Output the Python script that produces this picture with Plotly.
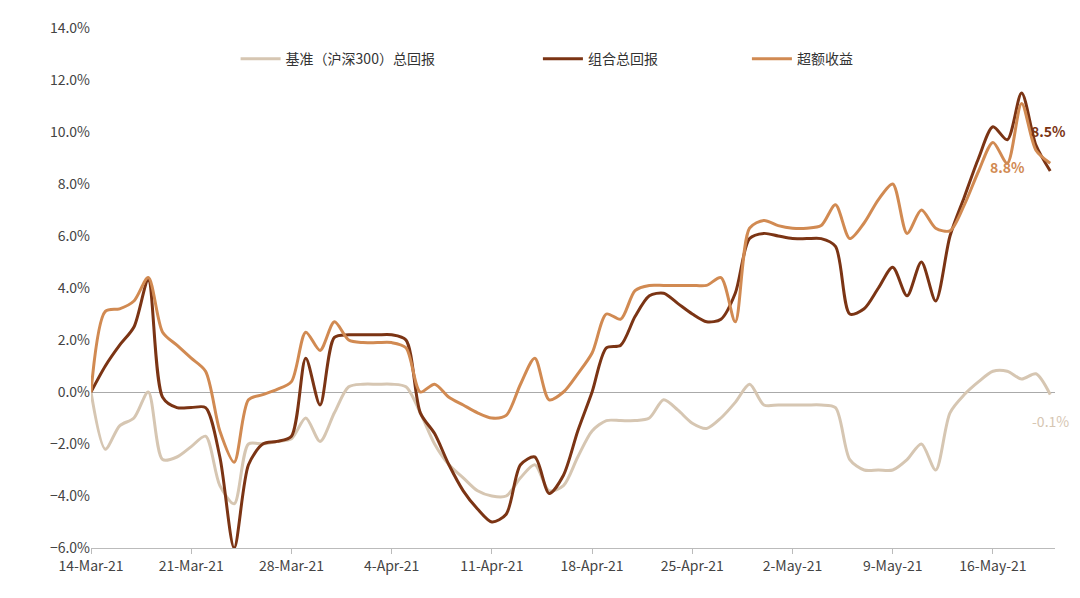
import plotly.graph_objects as go
import pandas as pd

dates = pd.date_range("2021-03-14", periods=68, freq="D")
bench = [0,-2.2,-1.3,-1.0,0,-2.6,-2.5,-2.1,-1.7,-3.6,-4.3,-2.0,-2.0,-1.9,-1.8,-1.0,-1.9,-0.8,0.2,0.3,
         0.3,0.3,0.2,-0.8,-2.0,-2.8,-3.3,-3.8,-4.0,-4.0,-3.3,-2.8,-3.8,-3.6,-2.5,-1.5,-1.1,-1.1,-1.1,-1.0,
         -0.3,-0.7,-1.2,-1.4,-1.0,-0.4,0.3,-0.5,-0.5,-0.5,-0.5,-0.5,-0.6,-2.6,-3.0,-3.0,-3.0,-2.6,-2.0,-3.0,
         -0.8,-0.1,0.4,0.8,0.8,0.5,0.7,-0.1]
port = [0,1.0,1.8,2.5,4.3,-0.2,-0.6,-0.6,-0.6,-2.5,-6.0,-2.8,-2.0,-1.9,-1.7,1.3,-0.5,2.1,2.2,2.2,
        2.2,2.2,2.0,-0.8,-1.6,-2.8,-3.8,-4.5,-5.0,-4.7,-2.8,-2.5,-3.9,-3.2,-1.5,0.0,1.7,1.8,2.9,3.7,
        3.8,3.4,3.0,2.7,2.8,3.8,5.9,6.1,6.0,5.9,5.9,5.9,5.6,3.0,3.2,4.0,4.8,3.7,5.0,3.5,
        6.0,7.5,9.0,10.2,9.7,11.5,9.5,8.5]
excess = [0,3.1,3.2,3.5,4.4,2.3,1.8,1.3,0.8,-1.5,-2.7,-0.3,-0.1,0.1,0.4,2.3,1.6,2.7,2.0,1.9,
          1.9,1.9,1.7,0.0,0.3,-0.2,-0.5,-0.8,-1.0,-0.9,0.3,1.3,-0.3,0.0,0.7,1.5,3.0,2.8,3.9,4.1,
          4.1,4.1,4.1,4.1,4.4,2.7,6.3,6.6,6.4,6.3,6.3,6.4,7.2,5.9,6.5,7.4,8.0,6.1,7.0,6.3,
          6.2,7.2,8.5,9.6,8.8,11.1,9.3,8.8]
names = ["基准（沪深300）总回报", "组合总回报", "超额收益"]
colors = ["#d6c6b2", "#7b3414", "#d18a52"]
tickvals = pd.date_range("2021-03-14", periods=10, freq="7D")
ticktext = [d.strftime("%-d-%b-%y") for d in tickvals]
pads = ["\u2003" * 7, "\u2003" * 6, ""]

fig = go.Figure()
for n, y, c, p in zip(names, [bench, port, excess], colors, pads):
    fig.add_trace(go.Scatter(x=dates, y=y, name=n + p, mode="lines",
                             line=dict(color=c, width=3, shape="spline", smoothing=0.8)))
fig.add_annotation(x=dates[-1], y=port[-1], text="<b>8.5%</b>", showarrow=False,
                   xshift=-2, yshift=40, font=dict(color=colors[1], size=14))
fig.add_annotation(x=dates[-4], y=excess[-1], text="<b>8.8%</b>", showarrow=False,
                   yshift=-4, font=dict(color=colors[2], size=14))
fig.add_annotation(x=dates[-1], y=bench[-1], text="-0.1%", showarrow=False,
                   yshift=-26, font=dict(color=colors[0], size=14))
fig.update_layout(
    width=1080, height=598, plot_bgcolor="white", paper_bgcolor="white",
    margin=dict(l=83, r=33, t=20, b=58),
    font=dict(family="Noto Sans CJK SC", size=14, color="#444"),
    legend=dict(orientation="h", x=0.15, xanchor="left", y=0.94, yanchor="middle",
                font=dict(size=14, color="#333"), itemwidth=40),
)
fig.update_xaxes(range=[dates[0], dates[-1] + pd.Timedelta(hours=8)], tickvals=tickvals,
                 ticktext=ticktext, showgrid=False, showline=True, linecolor="#bbb",
                 ticks="outside", tickcolor="#bbb", ticklen=5, automargin=False)
fig.update_yaxes(range=[-6, 14], dtick=2, tickformat=".1f", ticksuffix="%", showgrid=False,
                 zeroline=True, zerolinecolor="#aaa", zerolinewidth=1, automargin=False)
fig.write_html("out.html")
